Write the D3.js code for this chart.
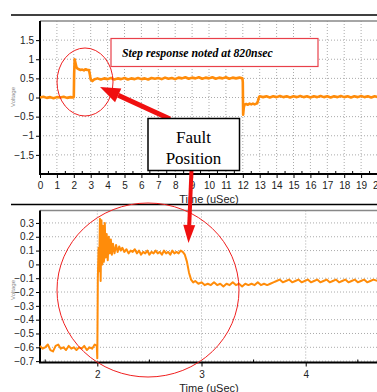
<!DOCTYPE html>
<html>
<head>
<meta charset="utf-8">
<script src="https://cdn.jsdelivr.net/npm/d3@7"></script>
<style>
    body { margin: 0; background: #fff; }
    svg { display: block; }
    .tick-label { font-family: "Liberation Sans", Arial, sans-serif; font-size: 10px; fill: #222; }
    .grid line { stroke: #aaa; stroke-dasharray: 1,2; }
</style>
</head>
<body>
<div id="chart"></div>
<script>
// ---- data ----
// top panel: full 0..20 uSec record, [time uSec, volts]
let topTicksX = d3.range(0, 21);
let topTicksY = [-1.5, -1, -0.5, 0, 0.5, 1, 1.5];
let topTrace = [
    [0, 0.00], [0.2, 0.02], [0.4, -0.01], [0.6, 0.01], [0.8, -0.02], [1.0, 0.01], [1.2, 0.00],
    [1.4, 0.02], [1.6, -0.01], [1.8, 0.01], [1.98, 0.00],
    [2.0, 0.02], [2.02, 0.6], [2.05, 1.0], [2.1, 0.9], [2.15, 0.8], [2.2, 0.76], [2.3, 0.74],
    [2.4, 0.72], [2.5, 0.73], [2.6, 0.71], [2.7, 0.74], [2.8, 0.72], [2.9, 0.72], [2.95, 0.6],
    [3.0, 0.47], [3.1, 0.43], [3.2, 0.47], [3.4, 0.50], [3.6, 0.47], [3.8, 0.50], [4.0, 0.48],
    [4.2, 0.51], [4.4, 0.47], [4.6, 0.50], [4.8, 0.48], [5.0, 0.51], [5.2, 0.47], [5.4, 0.50],
    [5.6, 0.48], [5.8, 0.51], [6.0, 0.48], [6.2, 0.50], [6.4, 0.47], [6.6, 0.51], [6.8, 0.49],
    [7.0, 0.51], [7.2, 0.48], [7.4, 0.52], [7.6, 0.49], [7.8, 0.51], [8.0, 0.48], [8.2, 0.52],
    [8.4, 0.50], [8.6, 0.53], [8.8, 0.49], [9.0, 0.52], [9.2, 0.50], [9.4, 0.53], [9.6, 0.49],
    [9.8, 0.52], [10.0, 0.50], [10.2, 0.53], [10.4, 0.49], [10.6, 0.52], [10.8, 0.50],
    [11.0, 0.53], [11.2, 0.49], [11.4, 0.52], [11.6, 0.50], [11.8, 0.52], [11.98, 0.50],
    [12.0, 0.40], [12.02, -0.45], [12.06, -0.26], [12.1, -0.19], [12.2, -0.17], [12.3, -0.19],
    [12.4, -0.16], [12.5, -0.18], [12.6, -0.16], [12.7, -0.18], [12.8, -0.16], [12.85, -0.15],
    [12.9, -0.08], [12.95, 0.00], [13.0, 0.03], [13.2, 0.01], [13.4, 0.03], [13.6, 0.00],
    [13.8, 0.03], [14.0, 0.01], [14.2, 0.04], [14.4, 0.01], [14.6, 0.03], [14.8, 0.00],
    [15.0, 0.03], [15.2, 0.01], [15.4, 0.04], [15.6, 0.01], [15.8, 0.03], [16.0, 0.00],
    [16.2, 0.03], [16.4, 0.01], [16.6, 0.04], [16.8, 0.01], [17.0, 0.03], [17.2, 0.00],
    [17.4, 0.03], [17.6, 0.01], [17.8, 0.04], [18.0, 0.01], [18.2, 0.03], [18.4, 0.00],
    [18.6, 0.03], [18.8, 0.01], [19.0, 0.04], [19.2, 0.01], [19.4, 0.03], [19.6, 0.00],
    [19.8, 0.03], [20.0, 0.01]
];

// bottom panel: zoom on the step, [time uSec, volts]
let botTicksX = [2, 3, 4];
let botMinorX = [1.5, 2.5, 3.5, 4.5];
let botTicksY = [-0.7, -0.6, -0.5, -0.4, -0.3, -0.2, -0.1, 0, 0.1, 0.2, 0.3];
let botTrace = [
    [1.45, -0.59], [1.475, -0.61], [1.5, -0.60], [1.525, -0.58], [1.55, -0.62], [1.575, -0.63],
    [1.6, -0.59], [1.625, -0.58], [1.65, -0.61], [1.675, -0.60], [1.7, -0.62], [1.725, -0.59],
    [1.75, -0.61], [1.775, -0.60], [1.8, -0.62], [1.825, -0.60], [1.85, -0.61], [1.875, -0.59],
    [1.9, -0.62], [1.925, -0.60], [1.95, -0.61], [1.975, -0.58], [1.995, -0.59],
    [2.0, -0.68], [2.005, -0.10], [2.012, 0.12], [2.018, -0.05], [2.025, 0.33], [2.032, -0.12],
    [2.04, 0.32], [2.048, 0.00], [2.056, 0.28], [2.064, 0.02], [2.072, 0.30], [2.08, 0.05],
    [2.09, 0.22], [2.1, 0.03], [2.11, 0.20], [2.12, 0.08], [2.13, 0.18], [2.14, 0.07],
    [2.15, 0.15], [2.165, 0.08], [2.18, 0.14], [2.195, 0.09], [2.21, 0.13], [2.225, 0.10],
    [2.24, 0.12], [2.26, 0.09], [2.28, 0.11], [2.30, 0.08], [2.32, 0.10], [2.34, 0.09],
    [2.36, 0.11], [2.38, 0.08], [2.40, 0.10], [2.42, 0.07], [2.44, 0.09], [2.46, 0.08],
    [2.48, 0.10], [2.50, 0.07], [2.52, 0.09], [2.54, 0.08], [2.56, 0.10], [2.58, 0.08],
    [2.60, 0.09], [2.62, 0.07], [2.64, 0.10], [2.66, 0.08], [2.68, 0.09], [2.70, 0.07],
    [2.72, 0.10], [2.74, 0.08], [2.76, 0.09], [2.78, 0.08], [2.80, 0.10], [2.82, 0.09],
    [2.84, 0.07], [2.86, 0.02], [2.88, -0.06], [2.90, -0.11], [2.92, -0.13], [2.94, -0.12],
    [2.97, -0.14], [3.0, -0.13], [3.03, -0.15], [3.06, -0.14], [3.09, -0.15], [3.12, -0.13],
    [3.15, -0.15], [3.18, -0.14], [3.21, -0.16], [3.24, -0.14], [3.27, -0.15], [3.30, -0.13],
    [3.33, -0.15], [3.36, -0.14], [3.39, -0.16], [3.42, -0.14], [3.45, -0.15], [3.48, -0.14],
    [3.51, -0.15], [3.54, -0.13], [3.57, -0.15], [3.60, -0.14], [3.63, -0.15], [3.66, -0.14],
    [3.69, -0.13], [3.72, -0.12], [3.75, -0.11], [3.78, -0.13], [3.81, -0.12], [3.84, -0.11],
    [3.87, -0.13], [3.90, -0.12], [3.93, -0.11], [3.96, -0.13], [3.99, -0.12], [4.02, -0.11],
    [4.05, -0.13], [4.08, -0.12], [4.11, -0.11], [4.14, -0.13], [4.17, -0.12], [4.20, -0.11],
    [4.23, -0.13], [4.26, -0.12], [4.29, -0.11], [4.32, -0.13], [4.35, -0.12], [4.38, -0.11],
    [4.41, -0.13], [4.44, -0.12], [4.47, -0.11], [4.50, -0.13], [4.53, -0.12], [4.56, -0.11],
    [4.59, -0.13], [4.62, -0.12], [4.65, -0.11], [4.69, -0.12]
];

let stepNote = "Step response noted at 820nsec";
let faultNote = ["Fault", "Position"];
let xTitle = "Time (uSec)";
let yTitle = "Voltage";

/* * * * * * * * * * * * * *
*     class TracePanel     *
* * * * * * * * * * * * * */
class TracePanel {

    constructor(svg, cfg) {
        this.svg = svg;
        this.cfg = cfg;
        this.initVis();
    }

    initVis() {
        let vis = this;
        let c = vis.cfg;

        vis.x = d3.scaleLinear().domain(c.xDomain).range([c.left, c.right]);
        vis.y = d3.scaleLinear().domain(c.yDomain).range([c.bottom, c.top]);

        vis.g = vis.svg.append("g");

        // rule above the panel
        vis.g.append("line")
            .attr("x1", 11).attr("x2", 377)
            .attr("y1", c.top - 6).attr("y2", c.top - 6)
            .attr("stroke", "#000").attr("stroke-width", 1.5);

        // grid
        let grid = vis.g.append("g").attr("class", "grid");
        grid.selectAll(".gx")
            .data(c.gridX)
            .enter().append("line")
            .attr("x1", d => vis.x(d)).attr("x2", d => vis.x(d))
            .attr("y1", c.top).attr("y2", c.bottom);
        grid.selectAll(".gy")
            .data(c.gridY)
            .enter().append("line")
            .attr("x1", c.left).attr("x2", 377)
            .attr("y1", d => vis.y(d)).attr("y2", d => vis.y(d));

        // grey top frame
        vis.g.append("line")
            .attr("x1", c.left).attr("x2", 377)
            .attr("y1", c.top).attr("y2", c.top)
            .attr("stroke", "#888").attr("stroke-width", 1.5);

        // y axis
        let yAxis = d3.axisLeft(vis.y)
            .tickValues(c.yTicks)
            .tickSize(4)
            .tickFormat(d => d3.format("")(+d.toFixed(2)));
        let ya = vis.g.append("g")
            .attr("transform", `translate(${c.left},0)`)
            .call(yAxis);
        ya.select(".domain").remove();
        ya.selectAll("text").attr("class", "tick-label").attr("x", -6);
        ya.attr("font-family", null).attr("font-size", null);

        // x axis
        let xAxis = d3.axisBottom(vis.x)
            .tickValues(c.xTicks)
            .tickSize(4)
            .tickFormat(d3.format("d"));
        let xa = vis.g.append("g")
            .attr("transform", `translate(0,${c.bottom})`)
            .call(xAxis);
        xa.select(".domain").remove();
        xa.selectAll("text").attr("class", "tick-label").attr("y", 8);
        xa.attr("font-family", null).attr("font-size", null);

        // minor ticks
        vis.g.selectAll(".minor")
            .data(c.minorX)
            .enter().append("line")
            .attr("x1", d => vis.x(d)).attr("x2", d => vis.x(d))
            .attr("y1", c.bottom - 3).attr("y2", c.bottom)
            .attr("stroke", "#000");

        // frame left + bottom
        vis.g.append("path")
            .attr("d", `M${c.left},${c.top}V${c.bottom}H377`)
            .attr("fill", "none")
            .attr("stroke", "#000")
            .attr("stroke-width", 2);

        // titles
        vis.g.append("text")
            .attr("class", "tick-label")
            .attr("x", 209).attr("y", c.bottom + 29)
            .attr("text-anchor", "middle")
            .style("font-size", "11px")
            .text(xTitle);

        vis.g.append("text")
            .attr("transform", `translate(15,${c.yTitleAt}) rotate(-90)`)
            .attr("text-anchor", "middle")
            .style("font-family", "Liberation Sans, Arial, sans-serif")
            .style("font-size", "6px")
            .style("fill", "#888")
            .text(yTitle);

        vis.updateVis();
    }

    updateVis() {
        let vis = this;
        let c = vis.cfg;

        let line = d3.line()
            .x(d => vis.x(d[0]))
            .y(d => vis.y(d[1]));

        vis.g.append("path")
            .datum(c.data)
            .attr("d", line)
            .attr("fill", "none")
            .attr("stroke", "#ff8c0a")
            .attr("stroke-width", c.lineWidth)
            .attr("stroke-linejoin", "round");
    }
}

let svg = d3.select("#chart").append("svg")
    .attr("width", 377)
    .attr("height", 392);

let topPanel = new TracePanel(svg, {
    xDomain: [0, 20], yDomain: [-2, 2],
    left: 40, right: 378, top: 21, bottom: 174,
    xTicks: topTicksX, yTicks: topTicksY,
    minorX: d3.range(0.5, 20, 1),
    gridX: topTicksX.slice(1), gridY: topTicksY,
    yTitleAt: 97, data: topTrace, lineWidth: 2.6
});

let botPanel = new TracePanel(svg, {
    xDomain: [1.45, 4.69], yDomain: [-0.71, 0.39],
    left: 40, right: 377.6, top: 210.5, bottom: 362.5,
    xTicks: botTicksX, yTicks: botTicksY,
    minorX: botMinorX,
    gridX: botTicksX, gridY: botTicksY,
    yTitleAt: 290, data: botTrace, lineWidth: 2
});

// ---- annotations ----
let notes = svg.append("g");

notes.append("ellipse")
    .attr("cx", 85).attr("cy", 82).attr("rx", 28).attr("ry", 34)
    .attr("fill", "none").attr("stroke", "#f02020").attr("stroke-width", 1);

notes.append("ellipse")
    .attr("cx", 148).attr("cy", 290).attr("rx", 91).attr("ry", 87)
    .attr("fill", "none").attr("stroke", "#f02020").attr("stroke-width", 1);

// step response box
notes.append("rect")
    .attr("x", 111).attr("y", 38.5).attr("width", 207).attr("height", 28)
    .attr("fill", "#fff").attr("stroke", "#e8404a").attr("stroke-width", 1.2);
notes.append("text")
    .attr("x", 122).attr("y", 57)
    .style("font-family", "Liberation Serif, Times New Roman, serif")
    .style("font-weight", "bold").style("font-style", "italic")
    .style("font-size", "11.8px")
    .text(stepNote);

// arrows
function arrow(x1, y1, x2, y2, w, headLen, headW) {
    let ang = Math.atan2(y2 - y1, x2 - x1);
    let bx = x2 - headLen * Math.cos(ang), by = y2 - headLen * Math.sin(ang);
    let px = -Math.sin(ang) * headW / 2, py = Math.cos(ang) * headW / 2;
    notes.append("line")
        .attr("x1", x1).attr("y1", y1).attr("x2", bx).attr("y2", by)
        .attr("stroke", "#f01010").attr("stroke-width", w);
    notes.append("path")
        .attr("d", `M${x2},${y2}L${bx + px},${by + py}L${bx - px},${by - py}Z`)
        .attr("fill", "#f01010");
}
arrow(170, 119, 100, 87, 5, 20, 15);
arrow(191.5, 170, 188.5, 243, 4, 18, 12);

// fault position box
notes.append("rect")
    .attr("x", 148).attr("y", 118.5).attr("width", 91.5).attr("height", 52)
    .attr("fill", "#fff").attr("stroke", "#000").attr("stroke-width", 1.5);
notes.selectAll(".fault")
    .data(faultNote)
    .enter().append("text")
    .attr("x", 193.5).attr("y", (d, i) => 143 + i * 21)
    .attr("text-anchor", "middle")
    .style("font-family", "Liberation Serif, Times New Roman, serif")
    .style("font-size", "17px")
    .text(d => d);
</script>
</body>
</html>
